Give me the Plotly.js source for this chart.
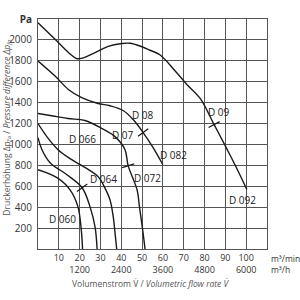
<!DOCTYPE html>
<html><head><meta charset="utf-8">
<script src="https://cdn.plot.ly/plotly-3.0.1.min.js"></script>
<style>body{margin:0;background:#fff}#c{width:300px;height:300px}</style>
</head><body><div id="c"></div>
<script>
// Curves (x: m³/min, y: Pa)
const d09X = [0, 8.2, 14.6, 18.6, 21, 27.4, 33.7, 40.2, 44.2, 49, 53.8, 58.7, 65.9, 71.5, 77.9, 84.6, 90.9, 95.5, 100.3];
const d09Y = [2165, 2006, 1880, 1821, 1824, 1879, 1939, 1965, 1968, 1942, 1901, 1856, 1702, 1574, 1440, 1190, 950, 770, 570];
const d08X = [0, 8.2, 14.6, 21, 28.8, 34.6, 40.9, 45.7, 50.5, 55.3, 60];
const d08Y = [1798, 1654, 1526, 1447, 1392, 1370, 1325, 1238, 1114, 970, 806];
const d07X = [0, 8, 14.4, 22.6, 30.8, 37, 41.8, 43.3, 47.6, 48.8, 50.5, 51.4];
const d07Y = [1296, 1270, 1248, 1229, 1152, 1075, 950, 797, 566, 394, 150, 0];
const d066X = [0, 4.8, 9.6, 15, 20, 25, 29, 32, 34.6, 36.2, 37, 37.8];
const d066Y = [1200, 1060, 950, 870, 810, 750, 690, 590, 470, 300, 154, 0];
const d064X = [0, 1.9, 5.8, 13.9, 21.2, 25, 27.4, 28.4];
const d064Y = [1065, 950, 826, 710, 586, 403, 211, 0];
const d060X = [0, 9.1, 15.4, 19.2, 20.8, 21.4];
const d060Y = [758, 682, 566, 403, 180, 0];

// operating point marks
const markX = [84.6, 50.5, 43.3, 21.2];
const markY = [1190, 1114, 797, 586];
const markAngle = [62, 54, 73, 54];

// curve labels
const labelText = ["D 09", "D 092", "D 08", "D 082", "D 07", "D 072", "D 066", "D 064", "D 060"];
const labelX = [87, 98, 50.5, 64.9, 40.9, 52.4, 21.2, 31.3, 12];
const labelY = [1315, 470, 1286, 902, 1094, 682, 1056, 672, 288];

// ticks (m³/min and m³/h rows)
const xTickVals = [10, 20, 30, 40, 50, 60, 70, 80, 90, 100];
const xTickMin = ["10", "20", "30", "40", "50", "60", "70", "80", "90", "100"];
const xTickHour = ["", "1200", "", "2400", "", "3600", "", "4800", "", "6000"];
const yTickVals = [200, 400, 600, 800, 1000, 1200, 1400, 1600, 1800, 2000, 2200];
const yTickText = ["200", "400", "600", "800", "1000", "1200", "1400", "1600", "1800", "2000", "<b>Pa</b>"];

const xTickText = xTickMin.map((t, i) => xTickHour[i] ? t + '<br>' + xTickHour[i] : t);

const curves = [[d09X, d09Y], [d08X, d08Y], [d07X, d07Y], [d066X, d066Y], [d064X, d064Y], [d060X, d060Y]];
const traces = curves.map(c => ({
  x: c[0], y: c[1], mode: 'lines', type: 'scatter',
  line: {color: '#1a1a1a', width: 1.4, shape: 'spline', smoothing: 1},
  hoverinfo: 'skip', showlegend: false
}));
traces.push({
  x: markX, y: markY, mode: 'markers', type: 'scatter', showlegend: false,
  marker: {symbol: 'line-ns', size: 9, angle: markAngle, line: {color: '#1a1a1a', width: 1.3}}
});

const font = {family: 'Open Sans, sans-serif', size: 10, color: '#333'};
const tickFont = {family: 'Open Sans, sans-serif', size: 9, color: '#333'};
const small = {family: 'Open Sans, sans-serif', size: 8.5, color: '#333'};
const annotations = labelText.map((t, i) => ({
  x: labelX[i], y: labelY[i], xref: 'x', yref: 'y', text: t, showarrow: false,
  font: {family: 'Open Sans, sans-serif', size: 10, color: '#222'}
}));
annotations.push(
  {xref: 'paper', yref: 'paper', x: 1.01, y: -0.04, xanchor: 'left', yanchor: 'middle', text: 'm³/min', showarrow: false, font: small},
  {xref: 'paper', yref: 'paper', x: 1.01, y: -0.09, xanchor: 'left', yanchor: 'middle', text: 'm³/h', showarrow: false, font: small},
  {xref: 'paper', yref: 'paper', x: 0.493, y: -0.152, xanchor: 'center', yanchor: 'middle',
   text: 'Volumenstrom V̇ / <i>Volumetric flow rate V̇</i>', showarrow: false, font: {family: 'Open Sans, sans-serif', size: 8.5, color: '#555'}},
  {xref: 'paper', yref: 'paper', x: -0.137, y: 0.53, xanchor: 'center', yanchor: 'middle', textangle: -90,
   text: 'Druckerhöhung Δp<sub>fa</sub> / <i>Pressure difference Δp<sub>fa</sub></i>', showarrow: false, font: {family: 'Open Sans, sans-serif', size: 8.5, color: '#555'}}
);

const layout = {
  width: 300, height: 300,
  margin: {l: 38, r: 33, t: 19, b: 51},
  paper_bgcolor: '#fff', plot_bgcolor: '#fff',
  showlegend: false,
  font: font,
  xaxis: {range: [0, 110], tickvals: xTickVals, ticktext: xTickText, tickfont: tickFont, showgrid: true, gridcolor: '#555', gridwidth: 1,
    zeroline: false, showline: true, linecolor: '#555', linewidth: 1, mirror: true, ticks: '', ticklabelstandoff: 0, fixedrange: true},
  yaxis: {range: [0, 2200], tickvals: yTickVals, ticktext: yTickText, showgrid: true, gridcolor: '#555', gridwidth: 1,
    zeroline: false, showline: true, linecolor: '#555', linewidth: 1, mirror: true, ticks: '', ticklabelstandoff: 3, fixedrange: true},
  annotations: annotations
};
Plotly.newPlot('c', traces, layout, {staticPlot: true, displayModeBar: false});
</script></body></html>
